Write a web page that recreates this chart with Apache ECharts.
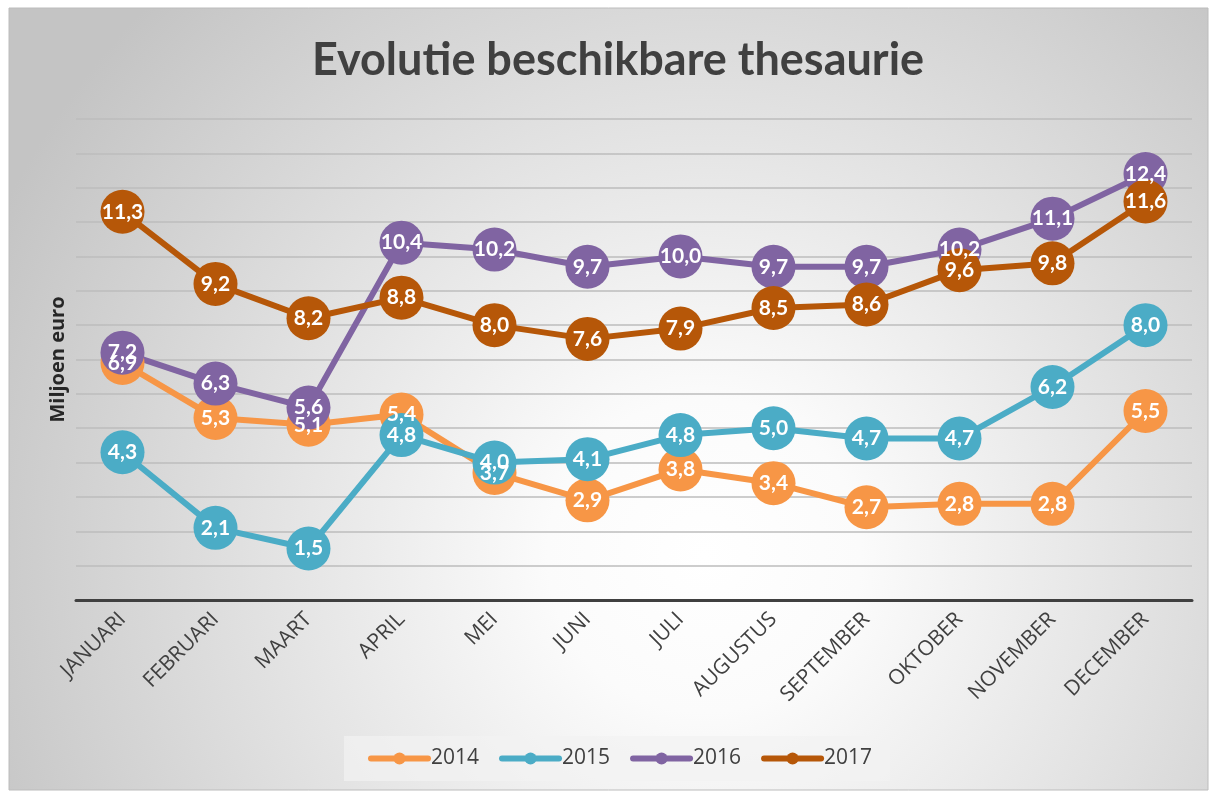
<!DOCTYPE html>
<html>
<head>
<meta charset="utf-8">
<script src="https://cdn.jsdelivr.net/npm/echarts@6/dist/echarts.min.js"></script>
<style>
  html, body { margin: 0; padding: 0; background: #fff; }
  #chart { width: 1209px; height: 791px; }
</style>
</head>
<body>
<div id="chart"></div>
<script>
const months = ['JANUARI', 'FEBRUARI', 'MAART', 'APRIL', 'MEI', 'JUNI', 'JULI', 'AUGUSTUS', 'SEPTEMBER', 'OKTOBER', 'NOVEMBER', 'DECEMBER']
const years = ['2014', '2015', '2016', '2017']
const values2014 = [6.9, 5.3, 5.1, 5.4, 3.7, 2.9, 3.8, 3.4, 2.7, 2.8, 2.8, 5.5]
const values2015 = [4.3, 2.1, 1.5, 4.8, 4.0, 4.1, 4.8, 5.0, 4.7, 4.7, 6.2, 8.0]
const values2016 = [7.2, 6.3, 5.6, 10.4, 10.2, 9.7, 10.0, 9.7, 9.7, 10.2, 11.1, 12.4]
const values2017 = [11.3, 9.2, 8.2, 8.8, 8.0, 7.6, 7.9, 8.5, 8.6, 9.6, 9.8, 11.6]

const colors = ['#F79646', '#4BACC6', '#8064A2', '#B65708']
const boldFont = 'Lato, "Open Sans", sans-serif'
const thinFont = '"Open Sans", Lato, sans-serif'

const chart = echarts.init(document.getElementById('chart'))

const makeSeries = (name, data) => ({
  name: name,
  type: 'line',
  data: data,
  symbol: 'circle',
  symbolSize: 44,
  lineStyle: { width: 6 },
  label: {
    show: true,
    position: 'inside',
    color: '#ffffff',
    fontFamily: boldFont,
    fontWeight: 'bold',
    fontSize: 21,
    formatter: p => p.value.toFixed(1).replace('.', ',')
  },
  emphasis: { disabled: true }
})

const option = {
  animation: false,
  color: colors,
  graphic: [
    {
      type: 'rect',
      z: -10,
      shape: { x: 9, y: 8, width: 1199, height: 782 },
      style: {
        fill: new echarts.graphic.RadialGradient(0.58, 0.7, 1.0, [
          { offset: 0, color: '#ffffff' },
          { offset: 0.2, color: '#fbfbfb' },
          { offset: 1, color: '#c4c4c4' }
        ]),
        stroke: '#bcbcbc',
        lineWidth: 1
      }
    }
  ],
  title: {
    text: 'Evolutie beschikbare thesaurie',
    left: 613,
    textAlign: 'center',
    top: 33,
    textStyle: {
      fontFamily: boldFont,
      fontWeight: 'bold',
      fontSize: 45,
      color: '#404040'
    }
  },
  legend: {
    data: years,
    top: 736,
    left: 344,
    itemWidth: 57,
    itemHeight: 15,
    itemGap: 20,
    padding: [12, 18, 12, 24],
    backgroundColor: 'rgba(242,242,242,0.7)',
    lineStyle: { width: 6, cap: 'round' },
    textStyle: { fontFamily: thinFont, fontSize: 21, color: '#404040', padding: [0, 0, 0, -2] }
  },
  grid: {
    left: 76,
    right: 17,
    top: 119,
    bottom: 191
  },
  xAxis: {
    type: 'category',
    data: months,
    boundaryGap: true,
    axisLine: { lineStyle: { color: '#404040', width: 3 } },
    axisTick: { show: false },
    axisLabel: {
      rotate: 45,
      interval: 0,
      margin: 16,
      fontFamily: thinFont,
      fontSize: 21,
      color: '#404040'
    }
  },
  yAxis: {
    type: 'value',
    min: 0,
    max: 14,
    interval: 1,
    name: 'Miljoen euro',
    nameLocation: 'middle',
    nameGap: 8,
    nameTextStyle: { fontFamily: thinFont, fontWeight: 'bold', fontSize: 20, color: '#262626' },
    axisLine: { show: false },
    axisTick: { show: false },
    axisLabel: { show: false },
    splitLine: { lineStyle: { color: '#bdbdbd', width: 1.5 } }
  },
  series: [
    makeSeries('2014', values2014),
    makeSeries('2015', values2015),
    makeSeries('2016', values2016),
    makeSeries('2017', values2017)
  ]
}

chart.setOption(option)
</script>
</body>
</html>
